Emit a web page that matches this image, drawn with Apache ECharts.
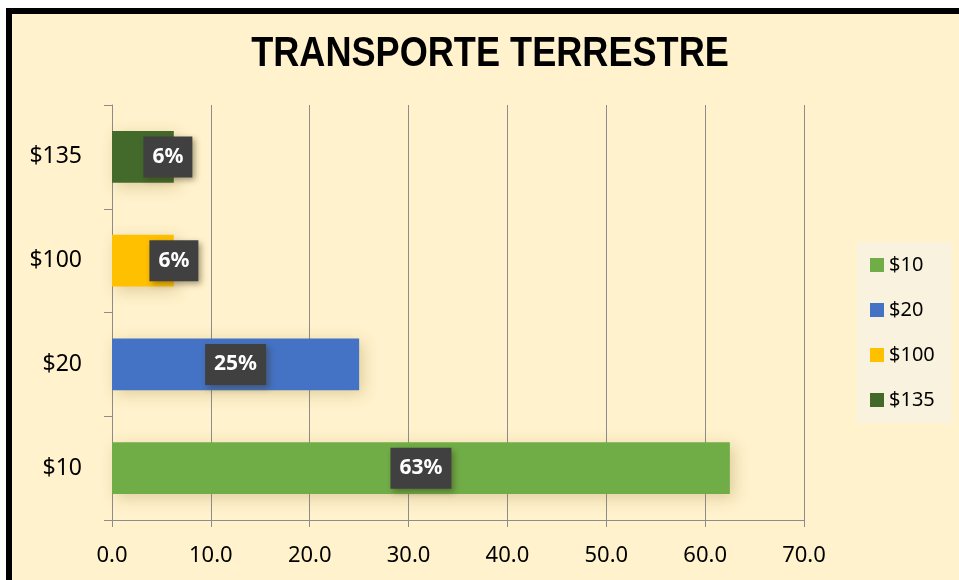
<!DOCTYPE html>
<html>
<head>
<meta charset="utf-8">
<title>TRANSPORTE TERRESTRE</title>
<script src="https://cdn.jsdelivr.net/npm/echarts@6/dist/echarts.min.js"></script>
<style>
  html, body { margin: 0; padding: 0; background: #fff; }
  .frame {
    position: absolute; left: 6px; top: 8px; width: 960px; height: 580px;
    background: #fff2cc; border-left: 6px solid #000; border-top: 6px solid #000;
  }
  #chart { position: absolute; left: 0; top: 0; width: 959px; height: 580px; }
</style>
</head>
<body>
<div class="frame"></div>
<div id="chart"></div>
<script>
  // datos
  var categories = ['$10', '$20', '$100', '$135'];
  var values = [62.5, 25, 6.25, 6.25];
  var pctLabels = ['63%', '25%', '6%', '6%'];
  var colors = ['#70ad47', '#4472c4', '#ffc000', '#436a2b'];
  var labelShift = [0, 0, 31, 25]; // etiquetas pequenas desplazadas a la derecha
  var xTicks = [0, 10, 20, 30, 40, 50, 60, 70];

  var font = '"Noto Sans", sans-serif';

  var series = categories.map(function (name, i) {
    var data = categories.map(function (c, j) {
      return j === i ? values[i] : '-';
    });
    return {
      name: name,
      type: 'bar',
      stack: 'total',
      barWidth: '50%',
      data: data,
      itemStyle: {
        color: colors[i],
        shadowBlur: 14,
        shadowColor: 'rgba(140, 110, 40, 0.28)',
        shadowOffsetX: 4,
        shadowOffsetY: 4
      },
      label: {
        show: true,
        position: 'inside',
        offset: [labelShift[i], 0],
        formatter: function () { return pctLabels[i]; },
        color: '#fff',
        fontFamily: font,
        fontWeight: 'bold',
        fontSize: 21,
        lineHeight: 22,
        backgroundColor: '#404040',
        padding: [10, 9, 9, 9],
        shadowBlur: 6,
        shadowColor: 'rgba(60, 50, 20, 0.45)',
        shadowOffsetX: 3,
        shadowOffsetY: 3
      }
    };
  });

  var chart = echarts.init(document.getElementById('chart'));
  chart.setOption({
    backgroundColor: 'transparent',
    animation: false,
    graphic: [{
      type: 'text',
      x: 490,
      y: 54,
      scaleX: 0.84,
      style: {
        text: 'TRANSPORTE TERRESTRE',
        font: 'bold 43px "Liberation Sans", Arial, sans-serif',
        fill: '#000',
        align: 'center',
        verticalAlign: 'middle'
      }
    }],
    legend: {
      orient: 'vertical',
      left: 857,
      top: 242,
      padding: [13, 17, 13, 13],
      backgroundColor: '#f8f2de',
      itemWidth: 14,
      itemHeight: 14,
      itemGap: 25,
      icon: 'rect',
      data: categories,
      textStyle: { fontFamily: font, fontSize: 20, lineHeight: 20, color: '#000' }
    },
    grid: { left: 112, right: 155, top: 105, bottom: 60 },
    xAxis: {
      type: 'value',
      min: xTicks[0],
      max: xTicks[xTicks.length - 1],
      interval: 10,
      axisLine: { show: true, lineStyle: { color: '#8c8c8c', width: 1 } },
      axisTick: { show: true, length: 7, lineStyle: { color: '#8c8c8c' } },
      splitLine: { show: true, lineStyle: { color: '#8c8c8c', width: 1 } },
      axisLabel: {
        margin: 25,
        fontFamily: font,
        fontSize: 22,
        color: '#000',
        formatter: function (v) { return v.toFixed(1); }
      }
    },
    yAxis: {
      type: 'category',
      data: categories,
      axisLine: { show: true, lineStyle: { color: '#8c8c8c', width: 1 } },
      axisTick: { show: true, length: 8, lineStyle: { color: '#8c8c8c' } },
      axisLabel: { margin: 30, fontFamily: font, fontSize: 23, color: '#000' }
    },
    series: series
  });
</script>
</body>
</html>
